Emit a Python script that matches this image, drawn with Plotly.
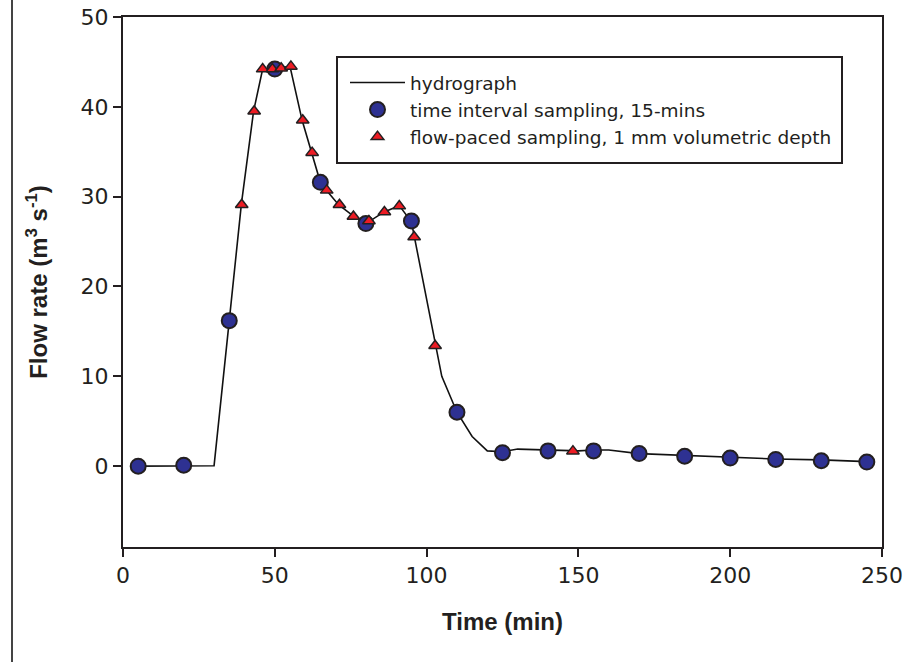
import plotly.graph_objects as go

# Hydrograph (continuous flow record)
hydro_time = [5, 20, 30, 35, 39, 43, 46, 50, 55, 59, 62, 65, 67, 71, 76, 80, 86, 91, 95, 96,
              103, 105, 110, 115, 120, 125, 130, 140, 150, 155, 160, 170, 185, 200, 215, 230, 245]
hydro_flow = [0.0, 0.05, 0.05, 16.2, 29.2, 39.5, 44.2, 44.3, 44.5, 38.5, 34.9, 31.6, 30.7, 29.1,
              27.8, 27.0, 28.3, 29.0, 27.2, 25.5, 13.4, 10.0, 6.0, 3.3, 1.7, 1.6, 1.9, 1.8, 1.7,
              1.8, 1.8, 1.4, 1.2, 1.0, 0.8, 0.7, 0.5]

# Time interval sampling, 15 mins
circ_time = [5, 20, 35, 50, 65, 80, 95, 110, 125, 140, 155, 170, 185, 200, 215, 230, 245]
circ_flow = [0.0, 0.1, 16.2, 44.2, 31.6, 27.0, 27.3, 6.0, 1.5, 1.7, 1.7, 1.4, 1.1, 0.9, 0.75, 0.6, 0.45]

# Flow-paced sampling, 1 mm volumetric depth
tri_time = [39.1, 43.2, 46.0, 49.2, 52.1, 55.3, 59.2, 62.3, 67.1, 71.3, 75.9, 81.0, 86.1, 91.0,
            95.9, 102.8, 148.2]
tri_flow = [29.1, 39.5, 44.2, 44.2, 44.3, 44.5, 38.5, 34.9, 30.7, 29.1, 27.8, 27.3, 28.3, 28.95,
            25.5, 13.4, 1.67]

x_ticks = [0, 50, 100, 150, 200, 250]
y_ticks = [0, 10, 20, 30, 40, 50]

INK = "#231F20"

fig = go.Figure()
fig.add_trace(go.Scatter(x=hydro_time, y=hydro_flow, mode="lines", name="hydrograph",
                         line=dict(color="#111111", width=1.6), legendgroup="a"))
fig.add_trace(go.Scatter(x=circ_time, y=circ_flow, mode="markers",
                         name="time interval sampling, 15-mins", legendgroup="b",
                         marker=dict(symbol="circle", size=15, color="#2E3192",
                                     line=dict(color=INK, width=2))))
fig.add_trace(go.Scatter(x=tri_time, y=tri_flow, mode="markers",
                         name="flow-paced sampling, 1 mm volumetric depth", legendgroup="c",
                         marker=dict(symbol="triangle-up", size=11, color="#ED1C24",
                                     line=dict(color=INK, width=1.5))))

W, H = 913, 662
L, R, T, B = 123, 31, 17, 115
pw, ph = W - L - R, H - T - B

def px_x(p):
    return (p - L) / pw

def px_y(p):
    return (H - B - p) / ph

fig.update_layout(
    width=W, height=H,
    margin=dict(l=L, r=R, t=T, b=B, autoexpand=False),
    paper_bgcolor="white", plot_bgcolor="white",
    showlegend=True,
    legend=dict(x=px_x(345), y=px_y(64), xanchor="left", yanchor="top",
                bgcolor="rgba(0,0,0,0)", borderwidth=0,
                font=dict(family="DejaVu Sans", size=18.5, color=INK),
                itemwidth=55, tracegroupgap=2, traceorder="normal"),
    xaxis=dict(range=[0, 250], tickvals=x_ticks, ticktext=[str(v) for v in x_ticks],
               automargin=False,
               showgrid=False, zeroline=False, showline=True, linecolor=INK, linewidth=2,
               mirror=True, ticks="outside", ticklen=8, tickwidth=2, tickcolor=INK,
               tickfont=dict(family="DejaVu Sans", size=22, color=INK),
               title=dict(text="<b>Time (min)</b>", standoff=26,
                          font=dict(family="Liberation Sans", size=24, color=INK))),
    yaxis=dict(range=[-9, 50], tickvals=y_ticks, ticktext=[str(v) for v in y_ticks],
               automargin=False,
               showgrid=False, zeroline=False, showline=True, linecolor=INK, linewidth=2,
               mirror=True, ticks="outside", ticklen=8, tickwidth=2, tickcolor=INK,
               tickfont=dict(family="DejaVu Sans", size=22, color=INK),
               title=dict(text="<b>Flow rate (m<sup>3</sup> s<sup>-1</sup>)</b>", standoff=26,
                          font=dict(family="Liberation Sans", size=24, color=INK))),
    shapes=[
        dict(type="line", xref="paper", yref="paper", x0=px_x(12), x1=px_x(12),
             y0=-0.4, y1=1.2, line=dict(color="#444444", width=2)),
        dict(type="rect", xref="paper", yref="paper", x0=px_x(337), x1=px_x(842),
             y0=px_y(163), y1=px_y(57), line=dict(color=INK, width=2)),
    ],
)

fig.write_html("out.html",
               config={"displayModeBar": False},
               post_script="document.body.style.margin='0';document.body.style.overflow='hidden';")
